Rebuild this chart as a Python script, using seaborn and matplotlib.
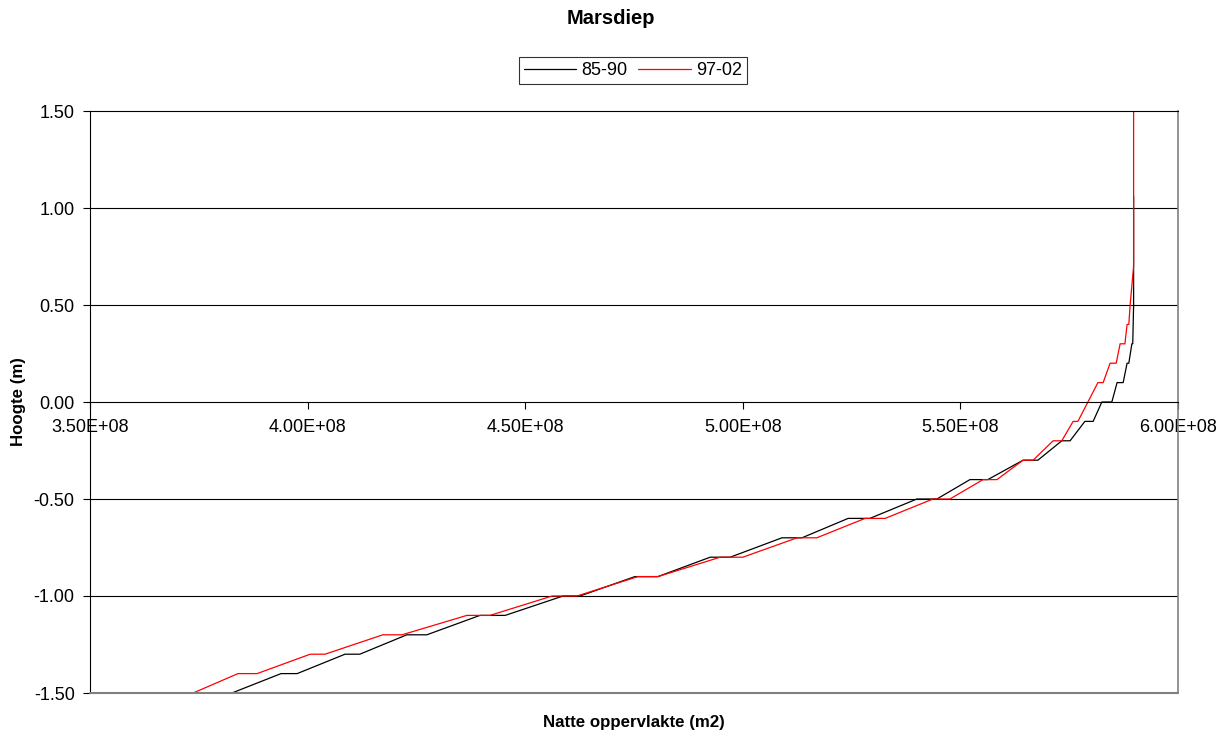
import pandas as pd
import matplotlib
matplotlib.use("Agg")
import matplotlib.pyplot as plt
import seaborn as sns
from matplotlib.lines import Line2D

# ------------------------------
# Data
# ------------------------------
# 85-90: heights (m) and wet area (m2)
hoogte_8590 = [-1.5, -1.4, -1.4, -1.3, -1.3, -1.2, -1.2, -1.1, -1.1, -1.0, -1.0,
               -0.9, -0.9, -0.8, -0.8, -0.7, -0.7, -0.6, -0.6, -0.5, -0.5,
               -0.4, -0.4, -0.3, -0.3, -0.2, -0.2, -0.1, -0.1, 0.0, 0.0,
               0.1, 0.1, 0.2, 0.2, 0.3, 0.3, 0.4, 0.5, 1.06]
opp_8590 = [3.826e8, 3.939e8, 3.976e8, 4.086e8, 4.120e8, 4.228e8, 4.274e8, 4.396e8, 4.454e8,
            4.587e8, 4.626e8, 4.752e8, 4.805e8, 4.925e8, 4.971e8, 5.090e8, 5.136e8,
            5.242e8, 5.292e8, 5.400e8, 5.446e8, 5.522e8, 5.563e8, 5.644e8, 5.678e8,
            5.733e8, 5.752e8, 5.786e8, 5.805e8, 5.825e8, 5.848e8, 5.860e8, 5.874e8,
            5.883e8, 5.887e8, 5.894e8, 5.896e8, 5.897e8, 5.898e8, 5.898e8]

# 97-02
hoogte_9702 = [-1.5, -1.4, -1.4, -1.3, -1.3, -1.2, -1.2, -1.1, -1.1, -1.0, -1.0,
               -0.9, -0.9, -0.8, -0.8, -0.7, -0.7, -0.6, -0.6, -0.5, -0.5,
               -0.4, -0.4, -0.3, -0.3, -0.2, -0.2, -0.1, -0.1, 0.0,
               0.1, 0.1, 0.2, 0.2, 0.3, 0.3, 0.4, 0.4, 0.5, 0.6, 0.7, 1.5]
opp_9702 = [3.737e8, 3.840e8, 3.884e8, 4.006e8, 4.040e8, 4.173e8, 4.217e8, 4.366e8, 4.419e8,
            4.562e8, 4.619e8, 4.759e8, 4.805e8, 4.948e8, 5.000e8, 5.125e8, 5.170e8,
            5.281e8, 5.327e8, 5.437e8, 5.476e8, 5.552e8, 5.584e8, 5.644e8, 5.667e8,
            5.713e8, 5.733e8, 5.759e8, 5.770e8, 5.793e8, 5.816e8, 5.828e8, 5.844e8,
            5.858e8, 5.867e8, 5.878e8, 5.883e8, 5.887e8, 5.890e8, 5.894e8, 5.898e8, 5.898e8]

x_ticks = [3.5e8, 4.0e8, 4.5e8, 5.0e8, 5.5e8, 6.0e8]
y_ticks = [-1.5, -1.0, -0.5, 0.0, 0.5, 1.0, 1.5]

df = pd.concat([
    pd.DataFrame({"Natte oppervlakte": opp_8590, "Hoogte": hoogte_8590, "Periode": "85-90"}),
    pd.DataFrame({"Natte oppervlakte": opp_9702, "Hoogte": hoogte_9702, "Periode": "97-02"}),
], ignore_index=True)

# ------------------------------
# Style
# ------------------------------
sns.set_theme(style="white")
plt.rcParams["font.family"] = ["Liberation Sans", "DejaVu Sans"]
plt.rcParams["text.color"] = "black"
plt.rcParams["axes.labelcolor"] = "black"

fig = plt.figure(figsize=(12.26, 7.37), dpi=100)
ax = fig.add_axes([90 / 1226, 44 / 737, 1088 / 1226, 582 / 737])

sns.lineplot(
    data=df, x="Natte oppervlakte", y="Hoogte", hue="Periode",
    palette={"85-90": "black", "97-02": "red"},
    sort=False, estimator=None, linewidth=0.9, ax=ax, legend=False
)

ax.set_xlim(3.5e8, 6.0e8)
ax.set_ylim(-1.5, 1.5)
ax.set_xticks(x_ticks)
ax.set_xticklabels([f"{v:.2E}" for v in x_ticks])
ax.set_yticks(y_ticks)
ax.set_yticklabels([f"{v:.2f}" for v in y_ticks])

# horizontal gridlines
for yv in [-1.0, -0.5, 0.5, 1.0]:
    ax.axhline(yv, color="black", linewidth=0.8, zorder=0.5)

# x axis crosses at 0
ax.spines["bottom"].set_position(("data", 0))
for side in ["bottom", "left", "top"]:
    ax.spines[side].set_color("black")
    ax.spines[side].set_linewidth(0.8)
ax.spines["right"].set_color("#808080")
ax.spines["right"].set_linewidth(1.2)
ax.axhline(-1.5, color="#808080", linewidth=1.5, clip_on=False, zorder=3)

ax.tick_params(axis="both", direction="out", length=5, width=0.8, colors="black",
               labelsize=13, bottom=True, left=True)
ax.tick_params(axis="x", pad=7)
ax.tick_params(axis="y", pad=6)

ax.set_xlabel("")
ax.set_ylabel("")
fig.text(634 / 1226, 1 - 722 / 737, "Natte oppervlakte (m2)", ha="center", va="center",
         fontsize=12.2, fontweight="bold")
fig.text(19 / 1226, 1 - 402 / 737, "Hoogte (m)", ha="center", va="center",
         rotation=90, fontsize=12.2, fontweight="bold")
fig.text(611 / 1226, 1 - 19 / 737, "Marsdiep", ha="center", va="center",
         fontsize=14.5, fontweight="bold")

# legend
handles = [Line2D([], [], color="black", linewidth=0.9),
           Line2D([], [], color="red", linewidth=0.9)]
leg = fig.legend(handles, ["85-90", "97-02"], loc="center",
                 bbox_to_anchor=(633 / 1226, 1 - 70.5 / 737), ncol=2,
                 frameon=True, fancybox=False, edgecolor="black",
                 fontsize=13, handlelength=2.9, columnspacing=0.6,
                 handletextpad=0.3, borderpad=0.25, borderaxespad=0)
leg.get_frame().set_linewidth(0.8)

fig.savefig("out.png", dpi=100)
